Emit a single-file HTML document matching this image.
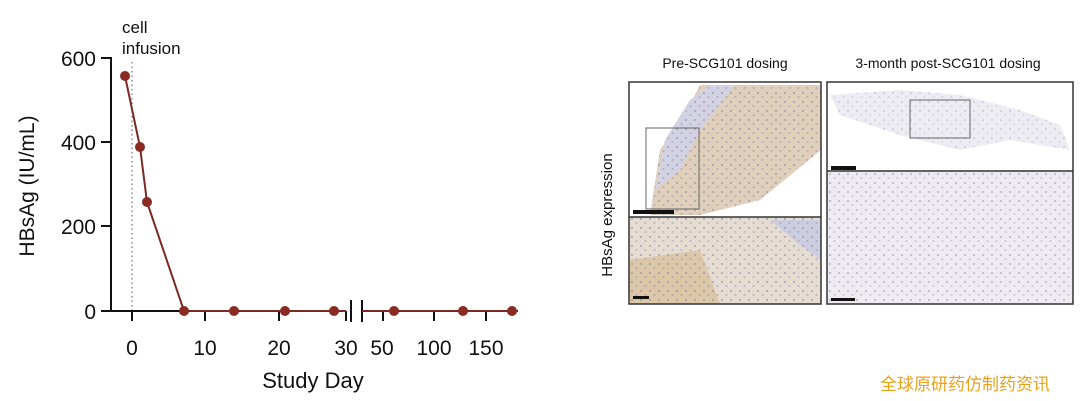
<!DOCTYPE html>
<html><head><meta charset="utf-8"><style>
html,body{margin:0;padding:0;background:#fff;}
body{width:1080px;height:401px;overflow:hidden;position:relative;font-family:"Liberation Sans",sans-serif;}
</style></head><body>
<svg width="1080" height="401" viewBox="0 0 1080 401" xmlns="http://www.w3.org/2000/svg" style="position:absolute;left:0;top:0">
<defs>
<pattern id="dots" width="9" height="9" patternUnits="userSpaceOnUse">
<circle cx="2" cy="3" r="1.1" fill="#8c87a6" opacity="0.6"/><circle cx="6.5" cy="7" r="1" fill="#8c87a6" opacity="0.5"/>
</pattern>
</defs>
<g font-family="Liberation Sans, sans-serif" fill="#111">
<text x="122" y="33" font-size="17">cell</text>
<text x="122" y="54" font-size="17">infusion</text>
<line x1="132" y1="62" x2="132" y2="311" stroke="#555" stroke-width="1" stroke-dasharray="1.5,3"/>
<line x1="111" y1="57" x2="111" y2="311" stroke="#111" stroke-width="2"/>
<g stroke="#111" stroke-width="2">
<line x1="101" y1="58" x2="111" y2="58"/><line x1="101" y1="142" x2="111" y2="142"/>
<line x1="101" y1="226" x2="111" y2="226"/><line x1="101" y1="311" x2="111" y2="311"/>
<line x1="111" y1="311" x2="346" y2="311"/><line x1="366" y1="311" x2="518" y2="311"/>
<line x1="132" y1="311" x2="132" y2="321"/><line x1="205" y1="311" x2="205" y2="321"/>
<line x1="279" y1="311" x2="279" y2="321"/><line x1="346" y1="311" x2="346" y2="321"/>
<line x1="383" y1="311" x2="383" y2="321"/><line x1="434" y1="311" x2="434" y2="321"/>
<line x1="486" y1="311" x2="486" y2="321"/>
<line x1="351" y1="300" x2="351" y2="322"/><line x1="362" y1="300" x2="362" y2="322"/>
</g>
<g font-size="21" text-anchor="end">
<text x="96" y="66">600</text><text x="96" y="150">400</text><text x="96" y="234">200</text><text x="96" y="319">0</text>
</g>
<g font-size="21" text-anchor="middle">
<text x="132" y="355">0</text><text x="205" y="355">10</text><text x="279" y="355">20</text>
<text x="346" y="355">30</text><text x="382" y="355">50</text><text x="434" y="355">100</text><text x="486" y="355">150</text>
</g>
<text x="313" y="388" font-size="22" text-anchor="middle">Study Day</text>
<text transform="translate(34,186) rotate(-90)" font-size="21" text-anchor="middle">HBsAg (IU/mL)</text>
<polyline points="125,76 140,147 147,202 184,311 346,311" fill="none" stroke="#7a2a22" stroke-width="2"/>
<polyline points="362,311 518,311" fill="none" stroke="#7a2a22" stroke-width="2"/>
<g fill="#8a2a22">
<circle cx="125" cy="76" r="5"/><circle cx="140" cy="147" r="5"/><circle cx="147" cy="202" r="5"/>
<circle cx="184" cy="311" r="5"/><circle cx="234" cy="311" r="5"/><circle cx="285" cy="311" r="5"/>
<circle cx="334" cy="311" r="5"/><circle cx="394" cy="311" r="5"/><circle cx="463" cy="311" r="5"/><circle cx="512" cy="311" r="5"/>
</g>
<text x="725" y="68" font-size="14" text-anchor="middle">Pre-SCG101 dosing</text>
<text x="948" y="68" font-size="14" text-anchor="middle">3-month post-SCG101 dosing</text>
<text transform="translate(612,215) rotate(-90)" font-size="15" text-anchor="middle">HBsAg expression</text>
<rect x="629" y="82" width="192" height="135" fill="#fff"/>
<polygon points="650,215 660,150 690,105 700,85 821,85 821,150 760,200 700,215" fill="#e0cfbb"/>
<polygon points="655,190 665,140 690,100 710,85 735,85 700,130 680,170" fill="#d2d2e2"/>
<polygon points="650,215 660,150 690,105 700,85 821,85 821,150 760,200 700,215" fill="url(#dots)"/>
<rect x="646" y="128" width="53" height="81" fill="none" stroke="#666" stroke-width="1"/>
<rect x="633" y="210" width="41" height="4" fill="#111"/>
<rect x="629" y="217" width="192" height="87" fill="#e6ddd2"/>
<polygon points="629,260 700,250 720,304 629,304" fill="#dcc7a9"/>
<polygon points="770,220 821,220 821,260 800,245" fill="#cccde0"/>
<rect x="629" y="217" width="192" height="87" fill="url(#dots)"/>
<rect x="633" y="296" width="16" height="3" fill="#111"/>
<rect x="629" y="82" width="192" height="222" fill="none" stroke="#333" stroke-width="1.5"/>
<line x1="629" y1="217" x2="821" y2="217" stroke="#333" stroke-width="1.5"/>
<rect x="827" y="82" width="246" height="89" fill="#fff"/>
<polygon points="830,95 900,90 960,95 1020,110 1060,125 1070,150 1010,140 960,150 900,135 840,115" fill="#ececf2"/>
<polygon points="830,95 900,90 960,95 1020,110 1060,125 1070,150 1010,140 960,150 900,135 840,115" fill="url(#dots)" opacity="0.5"/>
<rect x="910" y="100" width="60" height="38" fill="none" stroke="#666" stroke-width="1"/>
<rect x="831" y="166" width="25" height="4" fill="#111"/>
<rect x="827" y="171" width="246" height="133" fill="#eeecf1"/>
<rect x="827" y="171" width="246" height="133" fill="url(#dots)" opacity="0.8"/>
<rect x="831" y="298" width="24" height="3" fill="#111"/>
<rect x="827" y="82" width="246" height="222" fill="none" stroke="#333" stroke-width="1.5"/>
<line x1="827" y1="171" x2="1073" y2="171" stroke="#333" stroke-width="1.5"/>
</g>
<text x="880" y="390" font-size="17" fill="#eaa21a" font-family="Liberation Sans, Noto Sans CJK SC, sans-serif">全球原研药仿制药资讯</text>
</svg>
</body></html>
